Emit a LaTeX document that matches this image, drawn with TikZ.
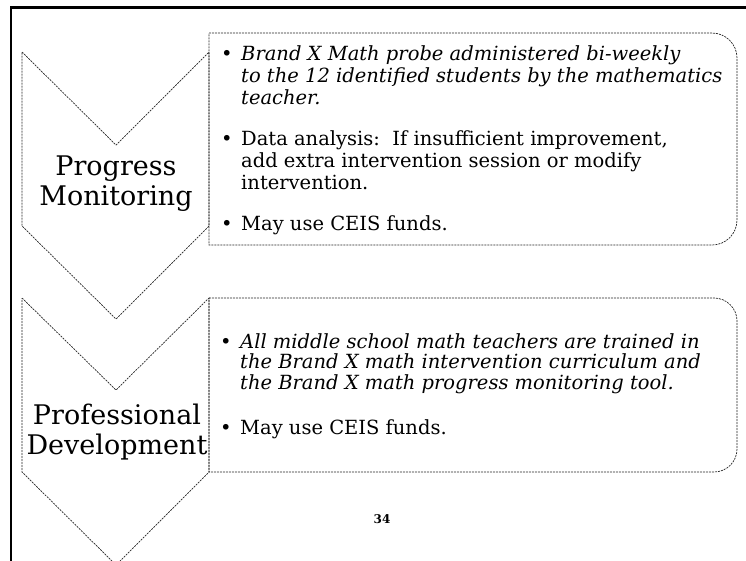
\documentclass[tikz,border=0pt]{standalone}
\usepackage{fontspec}
\setmainfont{DejaVu Serif}
\tikzset{
  outline/.style={draw=black!85, line width=0.7pt, dash pattern=on 2pt off 1pt},
  steplabel/.style={align=center, font=\fontsize{27}{30}\selectfont, inner sep=0pt},
  stepnote/.style={anchor=base west, inner sep=0pt}
}
\newcommand{\bul}{\makebox[20pt][l]{\textbullet}}
\begin{document}
\begin{tikzpicture}[x=1pt, y=-1pt]
\useasboundingbox (0,0) rectangle (746,560);
% frame of the slide
\draw[line width=2.5pt] (11,565) -- (11,7.5) -- (750,7.5);
% chevrons
\draw[outline] (22,52) -- (116,145) -- (209,52) -- (209,226) -- (116,319) -- (22,226) -- cycle;
\draw[outline] (22,298) -- (116,390) -- (209,298) -- (209,472) -- (116,565) -- (22,472) -- cycle;
% boxes
\draw[outline] (209,33) -- (712,33) arc[start angle=-90, end angle=0, radius=25]
  -- (737,220) arc[start angle=0, end angle=90, radius=25] -- (209,245) -- cycle;
\draw[outline] (209,298) -- (714,298) arc[start angle=-90, end angle=0, radius=23]
  -- (737,449) arc[start angle=0, end angle=90, radius=23] -- (209,472) -- cycle;
% labels
\node[steplabel] (pm) at (116,184) {Progress\\Monitoring};
\node[steplabel] (pd) at (117,432) {Professional\\Development};
% notes
\node[stepnote, font=\fontsize{19.5}{22}\selectfont] (pmnote) at (221,60) {%
\begin{tabular}[t]{@{}l@{}l@{}}
\bul & \textit{Brand X Math probe administered bi-weekly}\\
 & \textit{to the 12 identified students by the mathematics}\\
 & \textit{teacher.}\\[19pt]
\bul & Data analysis:\ \ If insufficient improvement,\\
 & add extra intervention session or modify\\
 & intervention.\\[19pt]
\bul & May use CEIS funds.
\end{tabular}};
\node[stepnote, font=\fontsize{19.5}{19.5}\selectfont] (pdnote) at (220,348) {%
\begin{tabular}[t]{@{}l@{}l@{}}
\bul & \textit{All middle school math teachers are trained in}\\
 & \textit{the Brand X math intervention curriculum and}\\
 & \textit{the Brand X math progress monitoring tool.}\\[24pt]
\bul & May use CEIS funds.
\end{tabular}};
\node[font=\bfseries\fontsize{12}{14}\selectfont] (pgno) at (382,519) {34};
\end{tikzpicture}
\end{document}
